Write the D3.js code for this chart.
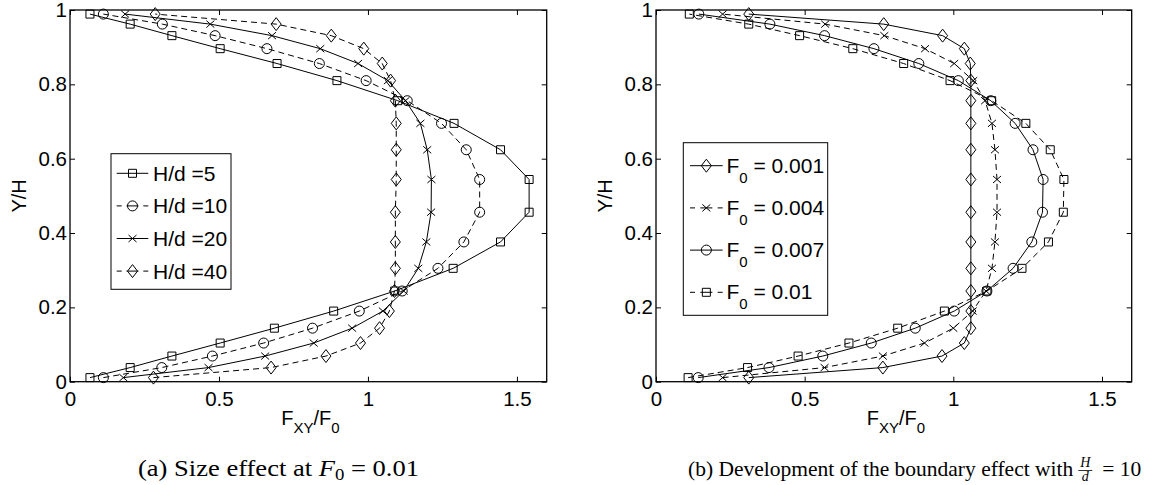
<!DOCTYPE html>
<html>

<head>
  <meta http-equiv="Content-Type" content="text/html;charset=utf-8" />
  <script src="https://cdn.jsdelivr.net/npm/d3@7"></script>
  <style type="text/css">
    body {
      margin: 0;
      background: #fff;
    }

    .tick text {
      font-family: "Liberation Sans", Arial, Helvetica, sans-serif;
      font-size: 20.5px;
      fill: #000;
    }

    .tick line {
      stroke: #000;
    }

    .lbl {
      font-family: "Liberation Sans", Arial, Helvetica, sans-serif;
      fill: #000;
    }

    .cap {
      font-family: "Liberation Serif", "Times New Roman", serif;
      fill: #000;
    }
  </style>
</head>

<body>
  <svg id="fig" width="1152" height="485"></svg>

  <script>
    // y positions (Y/H) of the nodes, shared by every curve
    const yNodes = [0.011, 0.038, 0.069, 0.104, 0.144, 0.190, 0.244, 0.305, 0.376, 0.456,
      0.544, 0.624, 0.695, 0.756, 0.810, 0.856, 0.896, 0.931, 0.962, 0.989];

    // panel (a): size effect, F0 = 0.01
    const hd5 = [0.067, 0.202, 0.342, 0.504, 0.686, 0.885, 1.090, 1.286, 1.445, 1.541,
      1.541, 1.445, 1.289, 1.100, 0.896, 0.695, 0.504, 0.342, 0.202, 0.067];
    const hd10 = [0.112, 0.308, 0.478, 0.650, 0.814, 0.971, 1.115, 1.235, 1.322, 1.375,
      1.375, 1.330, 1.247, 1.132, 0.994, 0.837, 0.661, 0.487, 0.310, 0.112];
    const hd20 = [0.179, 0.465, 0.655, 0.818, 0.947, 1.050, 1.120, 1.169, 1.196, 1.212,
      1.213, 1.199, 1.176, 1.126, 1.067, 0.967, 0.840, 0.678, 0.471, 0.185];
    const hd40 = [0.280, 0.675, 0.859, 0.975, 1.039, 1.072, 1.089, 1.092, 1.092, 1.092,
      1.095, 1.095, 1.095, 1.092, 1.076, 1.048, 0.986, 0.877, 0.692, 0.286];

    // panel (b): boundary effect, H/d = 10
    const f001 = [0.312, 0.763, 0.962, 1.037, 1.059, 1.059, 1.059, 1.059, 1.059, 1.059,
      1.059, 1.059, 1.059, 1.059, 1.059, 1.057, 1.037, 0.964, 0.766, 0.312];
    const f004 = [0.224, 0.567, 0.763, 0.903, 1.000, 1.065, 1.110, 1.130, 1.140, 1.147,
      1.147, 1.140, 1.130, 1.107, 1.067, 1.003, 0.905, 0.768, 0.569, 0.224];
    const f007 = [0.142, 0.380, 0.561, 0.724, 0.872, 1.003, 1.113, 1.201, 1.264, 1.300,
      1.302, 1.268, 1.208, 1.126, 1.017, 0.884, 0.733, 0.567, 0.383, 0.144];
    const f01 = [0.108, 0.308, 0.478, 0.649, 0.813, 0.970, 1.113, 1.231, 1.320, 1.370,
      1.372, 1.326, 1.244, 1.129, 0.989, 0.833, 0.662, 0.483, 0.312, 0.112];

    const xTicks = [0, 0.5, 1, 1.5];
    const yTicks = [0, 0.2, 0.4, 0.6, 0.8, 1];

    const leftNames = ["H/d =5", "H/d =10", "H/d =20", "H/d =40"];
    const rightNames = ["0.001", "0.004", "0.007", "0.01"];

    const svg = d3.select("#fig");

    // marker shapes, centred on 0,0
    function markerPath (kind) {
      switch (kind) {
        case "square": return "M-4,-4H4V4H-4Z";
        case "circle": return "M5,0A5,5 0 1 1 -5,0A5,5 0 1 1 5,0Z";
        case "cross": return "M-4,-3.5L4,3.5M-4,3.5L4,-3.5";
        case "diamond": return "M0,-6.5L5,0L0,6.5L-5,0Z";
      }
    }

    function drawPanel (opt) {
      const x = d3.scaleLinear().domain([0, 1.6]).range([opt.left, opt.right]);
      const y = d3.scaleLinear().domain([0, 1]).range([opt.bottom, opt.top]);
      const g = svg.append("g");

      const fmt = d => d3.format("~g")(d);

      g.append("g")
        .attr("transform", `translate(0,${opt.bottom})`)
        .call(d3.axisBottom(x).tickValues(xTicks).tickFormat(fmt).tickSize(-5).tickSizeOuter(0).tickPadding(10))
        .call(a => a.select(".domain").remove());
      g.append("g")
        .attr("transform", `translate(${opt.left},0)`)
        .call(d3.axisLeft(y).tickValues(yTicks).tickFormat(fmt).tickSize(-5).tickSizeOuter(0).tickPadding(3))
        .call(a => a.select(".domain").remove());
      g.append("g")
        .attr("transform", `translate(0,${opt.top})`)
        .call(d3.axisTop(x).tickValues(xTicks).tickFormat("").tickSize(-5).tickSizeOuter(0))
        .call(a => a.select(".domain").remove());
      g.append("g")
        .attr("transform", `translate(${opt.right},0)`)
        .call(d3.axisRight(y).tickValues(yTicks).tickFormat("").tickSize(-5).tickSizeOuter(0))
        .call(a => a.select(".domain").remove());

      const line = d3.line().x(d => x(d[0])).y(d => y(d[1]));

      opt.series.forEach(s => {
        const pts = s.values.map((v, i) => [v, yNodes[i]]);
        g.append("path")
          .datum(pts)
          .attr("d", line)
          .attr("fill", "none")
          .attr("stroke", "#000")
          .attr("stroke-width", 1)
          .attr("stroke-dasharray", s.dash ? "6,4" : null);
        g.selectAll(null)
          .data(pts)
          .join("path")
          .attr("transform", d => `translate(${x(d[0])},${y(d[1])})`)
          .attr("d", markerPath(s.marker))
          .attr("fill", "none")
          .attr("stroke", "#000")
          .attr("stroke-width", 1);
      });

      // box
      g.append("rect")
        .attr("x", opt.left).attr("y", opt.top)
        .attr("width", opt.right - opt.left).attr("height", opt.bottom - opt.top)
        .attr("fill", "none").attr("stroke", "#000").attr("stroke-width", 1.3);

      // axis labels
      const xl = g.append("text").attr("class", "lbl")
        .attr("x", (opt.left + opt.right) / 2 + 2).attr("y", 425)
        .attr("text-anchor", "middle").style("font-size", "20px");
      xl.append("tspan").text("F");
      xl.append("tspan").attr("dy", 8).style("font-size", "15px").text("XY");
      xl.append("tspan").attr("dy", -8).text("/F");
      xl.append("tspan").attr("dy", 8).style("font-size", "15px").text("0");

      g.append("text").attr("class", "lbl")
        .attr("transform", `translate(${opt.left - 44},${(opt.top + opt.bottom) / 2}) rotate(-90)`)
        .attr("text-anchor", "middle").style("font-size", "20px")
        .text("Y/H");

      // legend
      const lg = opt.legend;
      g.append("rect")
        .attr("x", lg.x0).attr("y", lg.y0)
        .attr("width", lg.x1 - lg.x0).attr("height", lg.y1 - lg.y0)
        .attr("fill", "#fff").attr("stroke", "#000").attr("stroke-width", 1);

      opt.series.forEach((s, i) => {
        const cy = lg.first + i * lg.step;
        const mx = (lg.lx0 + lg.lx1) / 2;
        const row = g.append("g");
        if (s.dash) {
          row.append("line").attr("x1", lg.lx0).attr("x2", lg.lx0 + 5).attr("y1", cy).attr("y2", cy).attr("stroke", "#000");
          row.append("line").attr("x1", lg.lx1 - 5).attr("x2", lg.lx1).attr("y1", cy).attr("y2", cy).attr("stroke", "#000");
          row.append("line").attr("x1", mx - 6).attr("x2", mx + 6).attr("y1", cy).attr("y2", cy).attr("stroke", "#000");
        } else {
          row.append("line").attr("x1", lg.lx0).attr("x2", lg.lx1).attr("y1", cy).attr("y2", cy).attr("stroke", "#000");
        }
        row.append("path")
          .attr("transform", `translate(${mx},${cy})`)
          .attr("d", markerPath(s.marker))
          .attr("fill", "none").attr("stroke", "#000");
        lg.label(row, lg.tx, cy, s.name);
      });

      return g;
    }

    drawPanel({
      left: 70, right: 546.7, top: 10, bottom: 381.7,
      series: [
        { name: leftNames[0], values: hd5, marker: "square", dash: false },
        { name: leftNames[1], values: hd10, marker: "circle", dash: true },
        { name: leftNames[2], values: hd20, marker: "cross", dash: false },
        { name: leftNames[3], values: hd40, marker: "diamond", dash: true }
      ],
      legend: {
        x0: 111, x1: 231, y0: 153.7, y1: 289.3,
        lx0: 116.7, lx1: 148.3, tx: 153, first: 173.3, step: 32.6,
        label: (row, tx, cy, name) => row.append("text").attr("class", "lbl")
          .attr("x", tx).attr("y", cy + 7.5).style("font-size", "21px").text(name)
      }
    });

    drawPanel({
      left: 656, right: 1131.7, top: 10, bottom: 381.7,
      series: [
        { name: rightNames[0], values: f001, marker: "diamond", dash: false },
        { name: rightNames[1], values: f004, marker: "cross", dash: true },
        { name: rightNames[2], values: f007, marker: "circle", dash: false },
        { name: rightNames[3], values: f01, marker: "square", dash: true }
      ],
      legend: {
        x0: 683.3, x1: 827.7, y0: 142.7, y1: 315.3,
        lx0: 690, lx1: 722.7, tx: 726.5, first: 165.7, step: 42.2,
        label: (row, tx, cy, name) => {
          const t = row.append("text").attr("class", "lbl")
            .attr("x", tx).attr("y", cy + 7).style("font-size", "21px");
          t.append("tspan").text("F");
          t.append("tspan").attr("dy", 10).style("font-size", "15px").text("0");
          t.append("tspan").attr("dy", -10).text(" = " + name);
        }
      }
    });

    // captions
    const capA = svg.append("text").attr("class", "cap")
      .attr("x", 138).attr("y", 476).style("font-size", "24px")
      .attr("textLength", 281).attr("lengthAdjust", "spacingAndGlyphs");
    capA.append("tspan").text("(a) Size effect at ");
    capA.append("tspan").style("font-style", "italic").text("F");
    capA.append("tspan").attr("dy", 4).style("font-size", "17px").text("0");
    capA.append("tspan").attr("dy", -4).text(" = 0.01");

    const capB = svg.append("text").attr("class", "cap")
      .attr("x", 688).attr("y", 476).style("font-size", "21.5px");
    capB.append("tspan").text("(b) Development of the boundary effect with");
    const bb = capB.node().getComputedTextLength();
    const fx = 688 + bb + 12;
    svg.append("text").attr("class", "cap").attr("x", fx).attr("y", 467)
      .attr("text-anchor", "middle").style("font-size", "14px").style("font-style", "italic").text("H");
    svg.append("line").attr("x1", fx - 7).attr("x2", fx + 7).attr("y1", 470.5).attr("y2", 470.5)
      .attr("stroke", "#000").attr("stroke-width", 0.8);
    svg.append("text").attr("class", "cap").attr("x", fx).attr("y", 481)
      .attr("text-anchor", "middle").style("font-size", "14px").style("font-style", "italic").text("d");
    svg.append("text").attr("class", "cap").attr("x", fx + 17).attr("y", 476)
      .style("font-size", "21.5px").text("= 10");
  </script>
</body>

</html>
